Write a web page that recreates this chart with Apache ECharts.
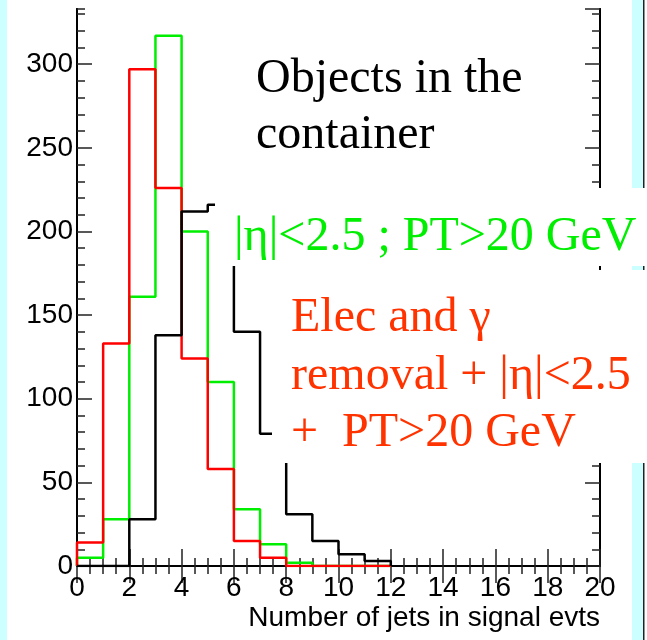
<!DOCTYPE html>
<html>
<head>
<meta charset="utf-8">
<script src="https://cdn.jsdelivr.net/npm/echarts@6/dist/echarts.min.js"></script>
<style>
  html, body { margin: 0; padding: 0; background: #ffffff; }
  #chart { width: 647px; height: 640px; }
</style>
</head>
<body>
<div id="chart"></div>
<script>
// Jet multiplicity histograms: one bin per jet count, edges 0..12
const binEdges = [0, 1, 2, 3, 4, 5, 6, 7, 8, 9, 10, 11, 12];
// all jet objects in the container
const allObjects = [0, 0, 28, 138, 212, 216, 140, 79, 31, 15, 7, 3];
// |eta| < 2.5 ; PT > 20 GeV
const etaPtCut = [5, 28, 161, 317, 200, 110, 34, 13, 2, 0, 0, 0];
// electron and photon removal + |eta| < 2.5 + PT > 20 GeV
const elecGammaRemoved = [14, 133, 297, 226, 124, 58, 15, 5, 0, 0, 0, 0];

// axis ticks
const xTickLabels = [0, 2, 4, 6, 8, 10, 12, 14, 16, 18, 20];
const yTickLabels = [0, 50, 100, 150, 200, 250, 300];
const yMinorStep = 10;
const yMax = 333;

// histogram outline: up from zero, across every bin top, back down to zero
function outline(values) {
  const pts = [[binEdges[0], 0]];
  values.forEach((v, i) => {
    pts.push([binEdges[i], v]);
    pts.push([binEdges[i + 1], v]);
  });
  pts.push([binEdges[values.length], 0]);
  return pts;
}

const xMin = xTickLabels[0];
const xMax = xTickLabels[xTickLabels.length - 1];
const xStep = xTickLabels[1] - xTickLabels[0];
const yStep = yTickLabels[1] - yTickLabels[0];

const frame = { show: true, lineStyle: { color: '#000', width: 2 } };
const tickColor = '#222';
const labelFont = { fontFamily: '"Liberation Sans", Arial, sans-serif', fontSize: 28, color: '#000' };

function xAxisDef(position, withLabels) {
  return {
    type: 'value', position: position, min: xMin, max: xMax, interval: xStep,
    axisLine: frame,
    axisTick: { show: true, inside: true, length: 17, lineStyle: { color: tickColor, width: 1.5 } },
    minorTick: { show: true, splitNumber: 4, length: 8, lineStyle: { color: tickColor, width: 1.5 } },
    axisLabel: Object.assign({ show: withLabels, margin: 8 }, labelFont),
    splitLine: { show: false },
    name: withLabels ? 'Number of jets in signal evts' : '',
    nameLocation: 'end',
    nameGap: 0,
    nameTextStyle: Object.assign({ align: 'right', verticalAlign: 'top', padding: [38, 0, 0, 0] }, labelFont)
  };
}

function yAxisDef(position, step, tickLen, withLabels) {
  return {
    type: 'value', position: position, min: 0, max: yMax, interval: step,
    axisLine: frame,
    axisTick: { show: true, inside: true, length: tickLen, lineStyle: { color: tickColor, width: 1.5 } },
    axisLabel: Object.assign({ show: withLabels, margin: 4, showMaxLabel: false }, labelFont),
    splitLine: { show: false }
  };
}

function histSeries(name, values, color) {
  return {
    name: name, type: 'line', data: outline(values),
    xAxisIndex: 0, yAxisIndex: 0,
    showSymbol: false, symbol: 'none', silent: true, animation: false,
    lineStyle: { color: color, width: 2.5 }
  };
}

// white panels behind the annotations
function panel(x, y, w, h) {
  return { type: 'rect', shape: { x: x, y: y, width: w, height: h }, style: { fill: '#ffffff' }, z: 100, silent: true };
}
function label(text, x, baseline, color) {
  return {
    type: 'text', x: x, y: baseline - 15, z: 101, silent: true,
    style: { text: text, fill: color, font: '48px "Liberation Serif", "Times New Roman", serif', verticalAlign: 'middle', align: 'left' }
  };
}

const chart = echarts.init(document.getElementById('chart'), null, { renderer: 'canvas' });
chart.setOption({
  animation: false,
  backgroundColor: '#ffffff',
  grid: { left: 77, right: 47, top: 9, bottom: 74, containLabel: false },
  xAxis: [xAxisDef('bottom', true), xAxisDef('top', false)],
  yAxis: [
    yAxisDef('left', yMinorStep, 8, false),
    yAxisDef('left', yStep, 15, true),
    yAxisDef('right', yMinorStep, 8, false),
    yAxisDef('right', yStep, 15, false)
  ],
  series: [
    histSeries('|η|<2.5 ; PT>20 GeV', etaPtCut, '#00ee00'),
    histSeries('Elec and γ removal + |η|<2.5 + PT>20 GeV', elecGammaRemoved, '#ff0000'),
    histSeries('Objects in the container', allObjects, '#000000')
  ],
  graphic: [
    { type: 'rect', shape: { x: 0, y: 0, width: 7, height: 640 }, style: { fill: '#ccffff' }, z: -10, silent: true },
    { type: 'rect', shape: { x: 632, y: 0, width: 11, height: 640 }, style: { fill: '#ccffff' }, z: -10, silent: true },
    { type: 'rect', shape: { x: 643, y: 0, width: 1.5, height: 640 }, style: { fill: '#222' }, z: -10, silent: true },
    panel(215, 28, 370, 180),
    panel(225, 188, 422, 78),
    panel(272, 270, 375, 193),
    label('Objects in the', 256, 94, '#000000'),
    label('container', 256, 150, '#000000'),
    label('|η|<2.5 ; PT>20 GeV', 234, 252, '#00ee00'),
    label('Elec and γ', 291, 333, '#ff3300'),
    label('removal + |η|<2.5', 291, 391, '#ff3300'),
    label('+  PT>20 GeV', 291, 448, '#ff3300')
  ]
});
</script>
</body>
</html>
